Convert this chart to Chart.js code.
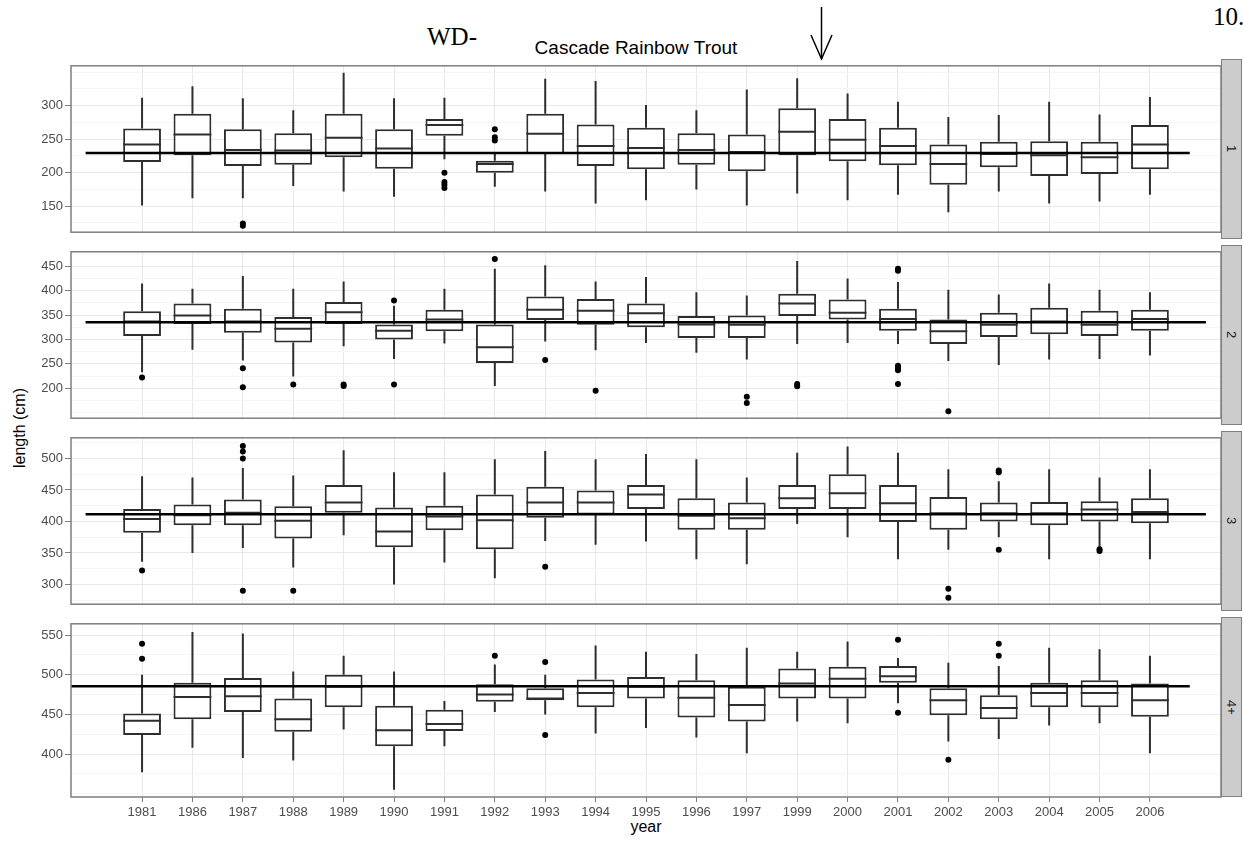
<!DOCTYPE html>
<html>
<head>
<meta charset="utf-8">
<script src="https://cdn.jsdelivr.net/npm/chart.js@4.4.1/dist/chart.umd.min.js"></script>
<style>
  body { margin: 0; background: #fff; width: 1243px; height: 845px; position: relative; overflow: hidden; font-family: "Liberation Sans", Arial, sans-serif; }
  .panel { position: absolute; left: 0; width: 1243px; }
  .strip { position: absolute; left: 1221px; width: 21px; height: 180px; background: #cccccc; border: 1px solid #7f7f7f; box-sizing: border-box; display: flex; align-items: center; justify-content: center; }
  .strip span { writing-mode: vertical-rl; font-size: 13px; color: #1a1a1a; }
  svg.notes { position: absolute; left: 0; top: 0; pointer-events: none; }
</style>
</head>
<body>
<svg class="notes" width="1243" height="845">
  <text x="636" y="54" text-anchor="middle" font-family="Liberation Sans, Arial" font-size="19">Cascade Rainbow Trout</text>
  <text x="427" y="45" font-family="Liberation Serif, Times New Roman" font-size="25">WD-</text>
  <text x="1213" y="25" font-family="Liberation Serif, Times New Roman" font-size="25">10.</text>
  <line x1="821.5" y1="7" x2="821.5" y2="59" stroke="#000" stroke-width="1.5"/>
  <polyline points="811,35 821.5,59 832,35" fill="none" stroke="#000" stroke-width="1.5"/>
  <text x="646" y="832" text-anchor="middle" font-family="Liberation Sans, Arial" font-size="16">year</text>
  <text transform="translate(25,428) rotate(-90)" text-anchor="middle" font-family="Liberation Sans, Arial" font-size="16">length (cm)</text>
</svg>
<script>
// years on the x axis and the four age classes (facets)
var years = ['1981','1986','1987','1988','1989','1990','1991','1992','1993','1994','1995',
             '1996','1997','1999','2000','2001','2002','2003','2004','2005','2006'];
var ageClasses = ['1', '2', '3', '4+'];

// box stats, one row per age class
var lowerWhisker = [
    [151,162,162,180,172,164,220,179,172,154,159,175,151,169,159,167,141,172,154,157,167],
    [233,279,257,224,286,260,292,205,296,278,293,273,259,291,293,291,256,248,259,260,267],
    [336,350,358,327,378,300,335,310,369,363,368,340,332,396,375,340,355,375,340,355,340],
    [377,408,395,392,431,355,410,453,450,426,433,421,401,441,439,464,416,419,436,439,401]
];
var lowerHinge = [
    [216,226,210,212,223,206,255,200,228,210,205,212,202,226,217,211,182,208,195,198,205],
    [307,332,314,294,332,300,317,252,340,330,325,303,303,348,341,318,291,305,311,307,318],
    [382,394,394,373,414,359,386,356,406,411,420,387,387,420,420,399,387,400,394,400,397],
    [424,444,453,428,459,410,429,466,468,459,470,446,441,470,470,490,449,444,459,459,447]
];
var median = [
    [242,257,234,233,252,236,271,213,258,240,237,234,231,261,249,240,213,228,226,223,242],
    [337,349,337,322,356,318,341,284,361,359,354,331,330,374,355,342,317,330,337,330,342],
    [404,410,414,401,430,384,408,402,430,430,443,409,405,437,445,429,413,413,413,419,415],
    [442,472,473,444,485,430,438,475,470,477,485,471,462,489,495,498,468,458,477,477,468]
];
var upperHinge = [
    [266,288,265,259,288,265,280,218,288,272,267,259,257,296,280,267,242,246,247,246,271],
    [358,374,363,346,377,331,361,331,388,383,374,348,349,394,382,363,341,355,365,359,361],
    [420,427,435,424,458,422,425,443,455,449,458,437,430,458,475,458,439,430,431,432,437],
    [451,490,496,470,500,461,456,488,483,494,497,493,485,508,510,511,483,474,490,493,489]
];
var upperWhisker = [
    [312,329,311,293,349,311,312,231,340,337,301,293,324,341,318,306,283,286,306,287,313],
    [415,404,430,404,419,369,404,445,452,419,428,397,390,461,425,418,402,392,415,402,397],
    [472,470,485,473,513,478,478,499,512,499,507,499,470,509,519,509,483,464,483,470,483],
    [500,554,552,504,524,504,467,513,500,537,529,526,534,529,542,521,515,511,534,532,524]
];
var outliers = [
    [['1987',121],['1987',124],['1991',200],['1991',186],['1991',182],['1991',177],
     ['1992',265],['1992',253],['1992',248]],
    [['1981',222],['1987',241],['1987',202],['1988',208],['1989',208],['1989',205],
     ['1990',380],['1990',208],['1992',465],['1993',258],['1994',195],['1997',183],['1997',170],
     ['1999',209],['1999',204],['2001',445],['2001',441],['2001',246],['2001',241],['2001',237],
     ['2001',209],['2002',153]],
    [['1981',322],['1987',520],['1987',511],['1987',500],['1987',290],['1988',290],['1993',328],
     ['2002',293],['2002',279],['2003',481],['2003',478],['2003',355],['2005',356],['2005',353]],
    [['1981',539],['1981',520],['1992',524],['1993',516],['1993',424],['2001',544],['2001',452],
     ['2002',393],['2003',539],['2003',524]]
];

// hand drawn mean line per panel (value, and x extent in year slots)
var refMean = [229.5, 335.5, 411.5, 485.5];
var refFrom = [-1.12, -1.12, -1.12, -1.45];
var refTo = [20.79, 21.11, 21.11, 20.79];

// y axis limits and labelled ticks per panel
var yMin = [111.2, 138.8, 268.6, 345.9];
var yMax = [359.5, 479.7, 532.9, 564.2];
var yLabeled = [[150,200,250,300], [200,250,300,350,400,450], [300,350,400,450,500], [400,450,500,550]];

var panelTop = [59, 245, 431, 617];
var panelH = 180;

Chart.defaults.font.family = '"Liberation Sans", Arial, sans-serif';
Chart.defaults.animation = false;

var panelBorder = {
    id: 'panelBorder',
    afterDraw: function(chart) {
        var a = chart.chartArea, ctx = chart.ctx;
        ctx.save();
        ctx.strokeStyle = '#7f7f7f';
        ctx.lineWidth = 1.5;
        ctx.strokeRect(a.left, a.top, a.right - a.left, a.bottom - a.top);
        ctx.restore();
    }
};

function makePanel(p) {
    var last = (p === ageClasses.length - 1);
    var h = last ? 3 + panelH + 30 : panelH + 6;
    var canvas = document.createElement('canvas');
    canvas.className = 'panel';
    canvas.width = 1243;
    canvas.height = h;
    canvas.style.top = (panelTop[p] - 3) + 'px';
    canvas.style.height = h + 'px';
    document.body.appendChild(canvas);

    var strip = document.createElement('div');
    strip.className = 'strip';
    strip.style.top = panelTop[p] + 'px';
    strip.innerHTML = '<span>' + ageClasses[p] + '</span>';
    document.body.appendChild(strip);

    var boxes = [], lows = [], highs = [], meds = [];
    for (var i = 0; i < years.length; i++) {
        boxes.push({x: i, y: [lowerHinge[p][i], upperHinge[p][i]]});
        lows.push({x: i, y: [lowerWhisker[p][i], lowerHinge[p][i]]});
        highs.push({x: i, y: [upperHinge[p][i], upperWhisker[p][i]]});
        meds.push({x: i, y: median[p][i]});
    }
    var dots = outliers[p].map(function(o) { return {x: years.indexOf(o[0]), y: o[1]}; });
    var isMajor = function(v) { return yLabeled[p].indexOf(v) !== -1; };

    new Chart(canvas, {
        type: 'bar',
        data: {
            datasets: [
                {type: 'line', data: [{x: refFrom[p], y: refMean[p]}, {x: refTo[p], y: refMean[p]}],
                 borderColor: '#000', borderWidth: 2.5, pointRadius: 0, fill: false, order: 0},
                {type: 'scatter', data: dots, pointRadius: 3, pointBackgroundColor: '#000',
                 pointBorderWidth: 0, order: 1},
                {type: 'scatter', data: meds, pointStyle: 'line', pointBorderColor: '#2e2e2e',
                 pointBorderWidth: 2, order: 2,
                 pointRadius: function(ctx) {
                     var s = ctx.chart.scales.x;
                     return Math.abs(s.getPixelForValue(1) - s.getPixelForValue(0)) * 0.375;
                 }},
                {type: 'bar', data: boxes, backgroundColor: '#fff', borderColor: '#2e2e2e', borderWidth: 2,
                 borderSkipped: false, barPercentage: 0.75, categoryPercentage: 1, grouped: false,
                 inflateAmount: 0, order: 3},
                {type: 'bar', data: lows, backgroundColor: '#2e2e2e', barThickness: 2, grouped: false,
                 inflateAmount: 0, order: 4},
                {type: 'bar', data: highs, backgroundColor: '#2e2e2e', barThickness: 2, grouped: false,
                 inflateAmount: 0, order: 4}
            ]
        },
        options: {
            responsive: false,
            events: [],
            layout: {padding: {top: 3, bottom: last ? 0 : 3, left: 0, right: 22}},
            plugins: {legend: {display: false}, tooltip: {enabled: false}},
            scales: {
                x: {
                    type: 'linear', min: -1.41, max: 21.41, offset: false,
                    afterBuildTicks: function(s) { s.ticks = years.map(function(y, i) { return {value: i}; }); },
                    afterFit: function(s) { s.height = last ? 30 : 0; },
                    border: {display: false},
                    grid: {color: '#e8e8e8', offset: false, drawTicks: last, tickLength: 5, tickColor: '#7f7f7f'},
                    ticks: {display: last, autoSkip: false, maxRotation: 0, padding: 3, color: '#4d4d4d',
                            font: {size: 13}, callback: function(v) { return years[v]; }}
                },
                y: {
                    type: 'linear', min: yMin[p], max: yMax[p],
                    afterBuildTicks: function(s) {
                        var t = [];
                        for (var v = Math.ceil(s.min / 25) * 25; v <= s.max; v += 25) t.push({value: v});
                        s.ticks = t;
                    },
                    afterFit: function(s) { s.width = 71; },
                    border: {display: false},
                    grid: {
                        tickLength: 6,
                        color: function(c) { return c.tick && isMajor(c.tick.value) ? '#e8e8e8' : '#f6f6f6'; },
                        tickColor: function(c) { return c.tick && isMajor(c.tick.value) ? '#7f7f7f' : 'rgba(0,0,0,0)'; }
                    },
                    ticks: {autoSkip: false, padding: 2, color: '#4d4d4d', font: {size: 13},
                            callback: function(v) { return isMajor(v) ? String(v) : ''; }}
                }
            }
        },
        plugins: [panelBorder]
    });
}

for (var p = 0; p < ageClasses.length; p++) makePanel(p);
</script>
</body>
</html>
